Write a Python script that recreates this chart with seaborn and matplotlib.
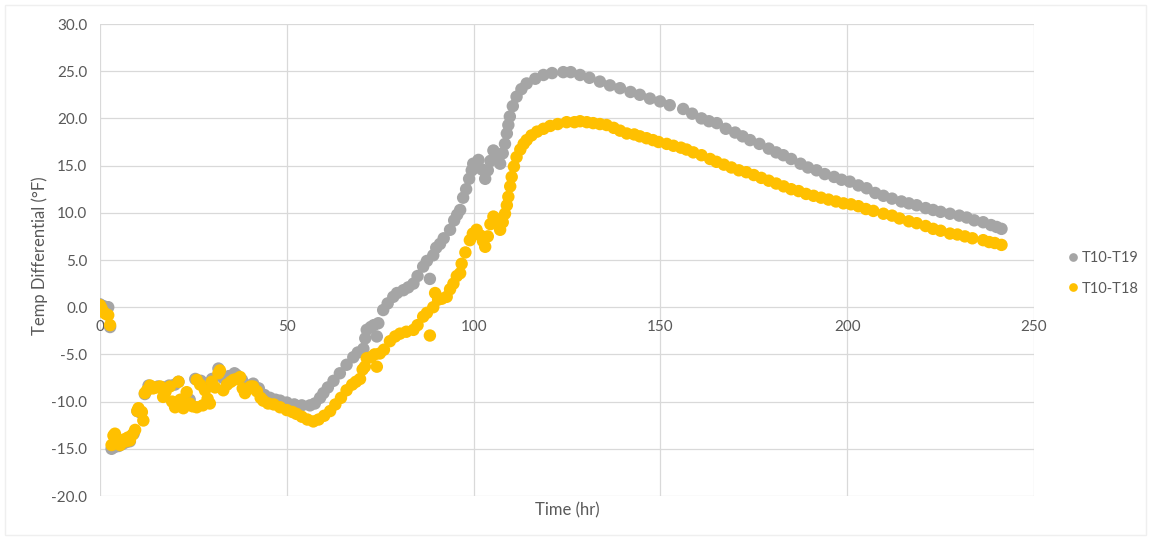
#!/usr/bin/env python
"""
Temperature differential scatter, T10-T19 and T10-T18 against time
"""
import pandas as pd
import matplotlib.pyplot as plt
import matplotlib.patches as mpatches
import seaborn as sns

# Series
t19_hr = [0.0, 1.0, 2.2, 2.7, 3.1, 4.0, 5.0, 6.0, 7.0, 8.0, 9.0, 10.0, 11.0, 12.0,
          13.0, 14.0, 15.5, 17.0, 18.5, 20.0, 21.0, 22.5, 24.0, 25.5, 27.0, 28.5,
          30.0, 31.7, 33.0, 34.5, 36.0, 36.6, 38.0, 39.5, 41.0, 42.5, 44.0, 45.5,
          47.0, 48.2, 50.0, 52.0, 54.0, 56.2, 57.5, 58.9, 59.8, 61.0, 62.5, 64.2,
          66.0, 67.8, 69.0, 70.5, 71.0, 71.4, 72.5, 73.3, 74.1, 74.5, 75.8, 77.0,
          78.5, 79.5, 81.2, 82.5, 83.9, 85.0, 86.5, 87.5, 88.3, 89.2, 90.0, 91.0,
          92.0, 93.7, 94.8, 95.6, 96.4, 97.2, 98.0, 98.8, 99.5, 99.9, 101.3, 102.2,
          103.1, 103.8, 104.5, 105.3, 106.2, 107.1, 107.8, 108.4, 108.9, 109.3,
          109.7, 110.5, 111.5, 112.8, 114.2, 116.5, 118.7, 121.0, 124.0, 126.0,
          128.5, 131.0, 133.8, 136.5, 139.2, 142.0, 144.5, 147.2, 149.9, 152.5,
          156.1, 158.5, 161.0, 163.0, 165.1, 167.5, 170.0, 172.0, 174.0, 176.5,
          179.0, 181.0, 182.9, 185.0, 187.5, 189.5, 191.8, 194.0, 196.5, 198.5,
          200.7, 203.0, 205.2, 207.5, 209.7, 212.0, 214.5, 216.5, 218.6, 221.0,
          223.0, 225.0, 227.5, 230.0, 232.0, 234.0, 236.4, 238.5, 240.0, 241.3]
t19_diff = [0.3, 0.1, 0.0, -2.1, -15.0, -14.8, -14.7, -14.5, -14.3, -14.2, -13.4,
            -11.0, -11.2, -9.2, -8.3, -8.5, -8.4, -8.5, -8.3, -8.2, -7.9, -10.3,
            -9.8, -7.6, -7.8, -8.2, -7.6, -6.5, -7.5, -7.3, -7.0, -7.2, -7.7, -8.3,
            -8.1, -8.6, -9.3, -9.6, -9.8, -9.9, -10.1, -10.3, -10.4, -10.4, -10.2,
            -9.6, -9.1, -8.5, -7.8, -7.0, -6.1, -5.3, -4.8, -4.4, -3.3, -2.4, -2.1,
            -1.9, -3.1, -1.7, -0.3, 0.4, 1.1, 1.5, 1.8, 2.1, 2.5, 3.3, 4.3, 4.9,
            3.0, 5.5, 6.3, 6.7, 7.3, 8.2, 9.2, 9.8, 10.3, 11.6, 12.5, 13.6, 14.5,
            15.2, 15.6, 14.6, 13.6, 14.5, 15.5, 16.6, 16.2, 15.2, 16.3, 17.3, 18.4,
            19.3, 20.2, 21.3, 22.3, 23.1, 23.7, 24.2, 24.6, 24.8, 24.9, 24.9, 24.6,
            24.3, 23.9, 23.5, 23.2, 22.8, 22.5, 22.1, 21.8, 21.4, 21.0, 20.5, 20.0,
            19.7, 19.5, 18.9, 18.5, 18.1, 17.7, 17.3, 16.8, 16.4, 16.1, 15.7, 15.2,
            14.8, 14.5, 14.1, 13.8, 13.5, 13.3, 12.9, 12.6, 12.1, 11.8, 11.5, 11.2,
            11.0, 10.8, 10.5, 10.3, 10.1, 9.9, 9.7, 9.5, 9.2, 9.0, 8.7, 8.5, 8.3]

t18_hr = [0.0, 0.4, 0.9, 1.5, 2.2, 2.7, 3.1, 3.6, 4.0, 4.5, 5.0, 5.4, 6.0, 6.5,
          7.0, 7.5, 8.0, 8.7, 9.4, 10.0, 10.3, 11.2, 11.6, 12.0, 12.6, 13.4, 14.2,
          15.0, 16.1, 16.9, 17.5, 18.7, 19.3, 20.1, 21.0, 21.5, 22.3, 23.2, 24.0,
          24.8, 25.9, 25.9, 26.8, 27.5, 28.1, 28.8, 29.4, 29.9, 30.8, 31.7, 32.1,
          33.0, 34.0, 35.0, 35.7, 36.6, 37.5, 38.2, 38.8, 39.5, 40.3, 41.0, 42.0,
          43.0, 43.7, 45.0, 46.5, 48.2, 50.0, 51.5, 52.6, 54.0, 55.5, 57.1, 58.5,
          60.0, 61.6, 63.0, 64.5, 66.0, 67.5, 68.5, 69.6, 70.3, 70.9, 71.4, 72.5,
          73.5, 74.1, 74.9, 76.0, 77.6, 79.0, 80.3, 82.0, 83.9, 85.0, 86.5, 87.5,
          88.3, 89.2, 89.7, 90.5, 91.5, 92.8, 93.7, 94.6, 95.5, 96.4, 96.8, 97.8,
          99.0, 99.8, 100.8, 101.8, 102.5, 103.1, 103.8, 104.5, 105.3, 106.2, 107.1,
          107.8, 108.4, 108.9, 109.3, 109.8, 110.2, 110.8, 111.5, 112.5, 113.4,
          114.2, 115.5, 117.0, 118.7, 120.5, 122.5, 124.9, 127.0, 128.5, 130.3,
          132.0, 133.8, 135.6, 137.5, 139.2, 141.0, 143.0, 144.5, 146.3, 148.0,
          149.5, 151.7, 153.5, 155.5, 157.0, 158.8, 161.0, 163.3, 165.0, 167.0,
          169.0, 171.0, 173.0, 175.0, 177.0, 179.0, 181.0, 183.0, 185.0, 187.0,
          189.0, 191.0, 193.0, 195.0, 197.0, 199.0, 201.0, 203.0, 205.0, 207.0,
          209.7, 212.0, 214.0, 216.5, 218.6, 221.0, 223.0, 225.0, 227.5, 229.5,
          231.5, 233.5, 236.4, 238.0, 239.5, 241.3]
t18_diff = [0.2, -0.1, -0.5, -0.7, -0.85, -1.9, -14.6, -13.6, -13.4, -14.0, -14.4,
            -14.6, -14.3, -14.0, -14.2, -13.8, -14.1, -13.5, -13.0, -11.0, -10.7,
            -11.1, -12.0, -9.1, -8.8, -8.3, -8.6, -8.5, -8.4, -9.5, -9.0, -8.4,
            -10.0, -10.6, -7.9, -9.8, -10.7, -9.0, -10.2, -10.5, -10.6, -7.7, -8.2,
            -10.4, -8.8, -9.7, -10.2, -7.9, -8.5, -7.0, -6.7, -8.8, -8.2, -7.9,
            -7.7, -7.6, -7.4, -8.6, -9.1, -8.7, -8.4, -8.4, -8.9, -9.6, -9.9,
            -10.2, -10.3, -10.6, -10.9, -11.1, -11.3, -11.6, -11.9, -12.1, -11.9,
            -11.5, -11.0, -10.3, -9.6, -8.8, -8.2, -7.9, -7.6, -6.6, -6.3, -5.4,
            -5.3, -5.0, -6.3, -4.9, -4.5, -3.6, -3.1, -2.8, -2.6, -2.4, -1.9, -1.0,
            -0.6, -3.0, 0.0, 1.5, 0.8, 0.9, 1.1, 1.9, 2.5, 3.3, 3.6, 4.6, 5.8, 7.1,
            7.8, 8.2, 7.6, 7.0, 6.4, 7.5, 8.8, 9.6, 9.3, 8.2, 9.0, 9.9, 10.8, 11.7,
            12.8, 13.8, 14.9, 15.9, 16.7, 17.3, 17.7, 18.2, 18.6, 18.9, 19.2, 19.4,
            19.6, 19.6, 19.7, 19.6, 19.5, 19.4, 19.3, 19.0, 18.7, 18.4, 18.3, 18.1,
            17.9, 17.7, 17.5, 17.3, 17.1, 16.9, 16.7, 16.4, 16.1, 15.7, 15.4, 15.1,
            14.8, 14.5, 14.3, 14.0, 13.7, 13.4, 13.1, 12.8, 12.5, 12.3, 12.0, 11.8,
            11.6, 11.4, 11.2, 11.0, 10.9, 10.7, 10.4, 10.2, 9.9, 9.7, 9.4, 9.1,
            8.9, 8.6, 8.3, 8.1, 7.8, 7.7, 7.5, 7.3, 7.1, 6.9, 6.8, 6.6]

series_names = ['T10-T19', 'T10-T18']
series_colors = ['#A5A5A5', '#FFC000']

df = pd.concat([
    pd.DataFrame({'Time (hr)': t19_hr, 'diff': t19_diff, 'series': series_names[0]}),
    pd.DataFrame({'Time (hr)': t18_hr, 'diff': t18_diff, 'series': series_names[1]}),
], ignore_index=True)

sns.set_style('white')
plt.rcParams['font.family'] = ['Lato', 'DejaVu Sans']
txt = '#595959'
grid = '#D9D9D9'

fig, ax = plt.subplots(figsize=(11.51, 5.40), dpi=100)
plt.subplots_adjust(left=100/1151, right=1034/1151, top=1-24/540, bottom=1-496/540)

sns.scatterplot(data=df, x='Time (hr)', y='diff', hue='series',
                hue_order=series_names, palette=series_colors,
                s=80, linewidth=0, ax=ax)

ax.set_xlim(0, 250)
ax.set_ylim(-20, 30)
ax.set_xticks(range(0, 251, 50))
ax.set_yticks(range(-20, 31, 5))
ax.set_yticklabels([f'{v:.1f}' for v in range(-20, 31, 5)])
ax.grid(True, color=grid, lw=0.9)
ax.set_axisbelow(True)
for side in ['top', 'right', 'left']:
    ax.spines[side].set_visible(False)
# Excel style: horizontal axis crosses at 0
ax.spines['bottom'].set_position(('data', 0))
ax.spines['bottom'].set_visible(False)
ax.tick_params(axis='both', length=0, labelsize=11, colors=txt)
ax.tick_params(axis='x', pad=9)
ax.tick_params(axis='y', pad=9)

ax.set_xlabel('Time (hr)', fontsize=12, color=txt, va='top')
ax.xaxis.set_label_coords(0.5, -0.014)
ax.set_ylabel('Temp Differential (°F)', fontsize=12, color=txt)
ax.yaxis.set_label_coords(-0.056, 0.51)

sns.move_legend(ax, loc='center left', bbox_to_anchor=(1.026, 0.472),
                title=None, frameon=False, fontsize=10.5, handlelength=0.6,
                handletextpad=0.3, labelspacing=1.15, markerscale=0.7,
                borderpad=0.2)
for t in ax.get_legend().get_texts():
    t.set_color(txt)

# faint chart border
fig.patches.append(mpatches.Rectangle((5/1151, 5/540), 1141/1151, 530/540,
                                      transform=fig.transFigure, fill=False,
                                      edgecolor='#EFEFEF', lw=1))

plt.savefig('out.png', dpi=100)
